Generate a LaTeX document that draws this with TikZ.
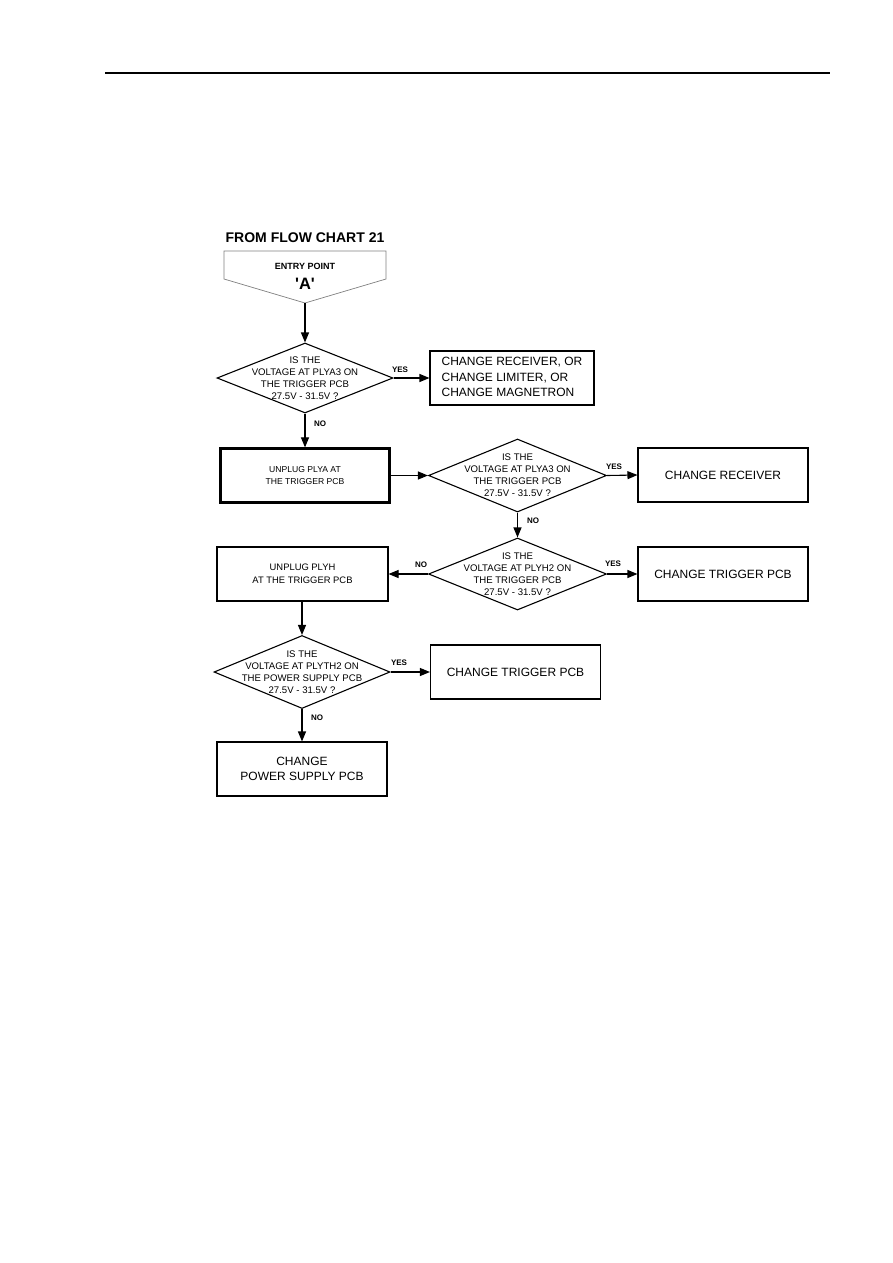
\documentclass[tikz,border=0pt]{standalone}
\usepackage{fontspec}
\setmainfont{Liberation Sans}
\usetikzlibrary{shapes.geometric,arrows.meta}
\tikzset{
  px/.style={x=1pt,y=-1pt},
  box/.style={draw,line width=1.1pt,rectangle,minimum width=170pt,minimum height=54pt,inner sep=0pt,align=center,font=\fontsize{12}{15.5}\selectfont},
  thickbox/.style={box,line width=2.2pt,font=\fontsize{8.6}{12}\selectfont},
  smallbox/.style={box,font=\fontsize{9.4}{12.5}\selectfont},
  dia/.style={draw,line width=1.1pt,diamond,inner sep=0pt,minimum width=178pt,minimum height=72pt},
  dtext/.style={align=center,inner sep=0pt,font=\fontsize{9.6}{12}\selectfont},
  lab/.style={inner sep=0pt,font=\bfseries\fontsize{8}{9}\selectfont},
  arr/.style={line width=1.1pt,-{Triangle[length=10pt,width=8pt]}},
}
\begin{document}
\begin{tikzpicture}[px]
\useasboundingbox (0,0) rectangle (893,1263);
\fill[white] (0,0) rectangle (893,1263);
% header rule
\coordinate (r1) at (105,73);
\coordinate (r2) at (830,73);
\draw[line width=1.2pt] (r1) -- (r2);
% title and entry point
\node[inner sep=0pt,font=\bfseries\fontsize{14}{16}\selectfont] (title) at (305,238) {FROM FLOW CHART 21};
\draw[gray,line width=0.7pt] (224,251) -- (386,251) -- (386,279) -- (305,303) -- (224,279) -- cycle;
\node[inner sep=0pt,font=\bfseries\fontsize{9}{10}\selectfont] (entry) at (305,266) {ENTRY POINT};
\node[inner sep=0pt,font=\bfseries\fontsize{16.5}{18}\selectfont] (entryA) at (305,284) {\textquotesingle A\textquotesingle};
\coordinate (entrytip) at (305,303);
% diamonds
\node[dia,minimum width=176pt,minimum height=70pt] (d1) at (305,378) {};
\node[dtext] (t1) at (d1) {IS THE\\VOLTAGE AT PLYA3 ON\\THE TRIGGER PCB\\27.5V - 31.5V ?};
\node[dia,minimum height=73pt] (d2) at (517.5,475.5) {};
\node[dtext] (t2) at (d2) {IS THE\\VOLTAGE AT PLYA3 ON\\THE TRIGGER PCB\\27.5V - 31.5V ?};
\node[dia] (d3) at (517.5,574) {};
\node[dtext] (t3) at (d3) {IS THE\\VOLTAGE AT PLYH2 ON\\THE TRIGGER PCB\\27.5V - 31.5V ?};
\node[dia,minimum width=176pt,minimum height=73pt] (d4) at (302,672) {};
\node[dtext] (t4) at (d4) {IS THE\\VOLTAGE AT PLYTH2 ON\\THE POWER SUPPLY PCB\\27.5V - 31.5V ?};
% boxes
\node[box,minimum width=164pt] (b1) at (512,378) {\begin{tabular}{@{}l@{}}CHANGE RECEIVER, OR\\CHANGE LIMITER, OR\\CHANGE MAGNETRON\end{tabular}};
\node[thickbox,minimum width=169pt] (b2) at (305,475.5) {UNPLUG PLYA AT\\THE TRIGGER PCB};
\node[box] (b3) at (723,475) {CHANGE RECEIVER};
\node[box] (b4) at (723,574) {CHANGE TRIGGER PCB};
\node[smallbox,minimum width=171pt] (b5) at (302.5,574) {UNPLUG PLYH\\AT THE TRIGGER PCB};
\node[box] (b6) at (515.5,672) {CHANGE TRIGGER PCB};
\node[box] (b7) at (302,769) {CHANGE\\POWER SUPPLY PCB};
% connectors
\draw[arr] (entrytip) -- (d1.north);
\draw[arr] (d1.east) -- (b1.west);
\draw[arr] (d1.south) -- (b2.north);
\draw[arr] (b2.east) -- (d2.west);
\draw[arr] (d2.east) -- (b3.west);
\draw[arr] (d2.south) -- (d3.north);
\draw[arr] (d3.east) -- (b4.west);
\draw[arr] (d3.west) -- (b5.east);
\draw[arr] (b5.south -| d4.north) -- (d4.north);
\draw[arr] (d4.east) -- (b6.west);
\draw[arr] (d4.south) -- (b7.north);
% labels
\node[lab] (y1) at (400,370) {YES};
\node[lab] (n1) at (320,424) {NO};
\node[lab] (y2) at (614,467) {YES};
\node[lab] (n2) at (533,521) {NO};
\node[lab] (y3) at (613,564) {YES};
\node[lab] (n3) at (421,565) {NO};
\node[lab] (y4) at (399,663) {YES};
\node[lab] (n4) at (317,718) {NO};
\end{tikzpicture}
\end{document}
